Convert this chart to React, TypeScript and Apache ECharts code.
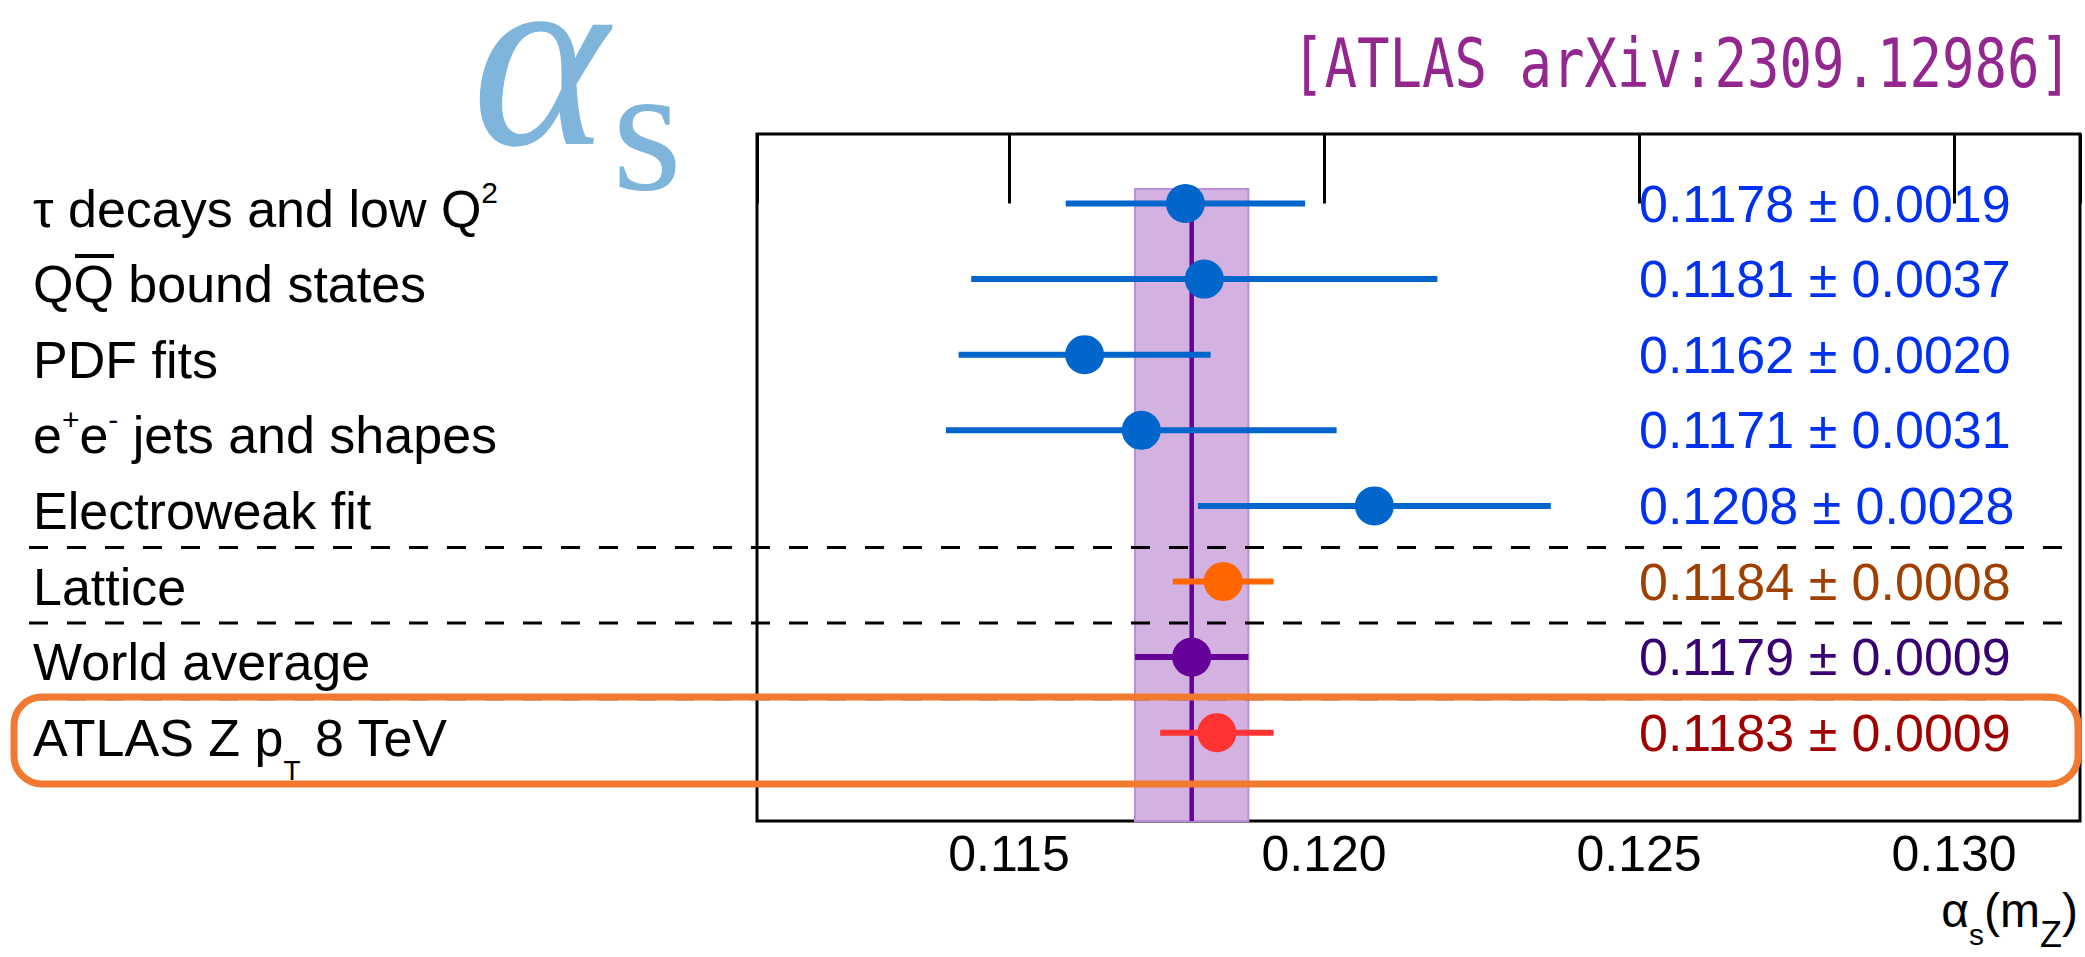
import React, { useEffect, useRef } from 'react';
import * as echarts from 'echarts';

// ---------- data ----------
const CATEGORIES = [
  'τ decays and low Q²',
  'QQ\u0304 bound states',
  'PDF fits',
  'e⁺e⁻ jets and shapes',
  'Electroweak fit',
  'Lattice',
  'World average',
  'ATLAS Z p_T 8 TeV',
];
const VALUES = [0.1178, 0.1181, 0.1162, 0.1171, 0.1208, 0.1184, 0.1179, 0.1183];
const ERRORS = [0.0019, 0.0037, 0.002, 0.0031, 0.0028, 0.0008, 0.0009, 0.0009];
const MARKER_COLORS = ['#0066CC', '#0066CC', '#0066CC', '#0066CC', '#0066CC', '#FF6600', '#660099', '#FF3333'];
const TEXT_COLORS = ['#0030F0', '#0030F0', '#0030F0', '#0030F0', '#0030F0', '#A04000', '#380070', '#A00000'];
const WORLD_AVERAGE_INDEX = 6;
const SEPARATOR_AFTER = [4, 5, 6];
const X_MIN = 0.111;
const X_MAX = 0.132;
const TITLE_SYMBOL = 'α';
const TITLE_SUB = 's';
const REFERENCE = '[ATLAS arXiv:2309.12986]';
const AXIS_NAME = '{a|α}{s|s}{a|(m}{z|Z}{a|)}';

// ---------- layout / style ----------
const FONT = '"Liberation Sans", Arial, Helvetica, sans-serif';
const SERIF = '"Liberation Serif", "DejaVu Serif", serif';
const Y_MIN = -0.919;
const Y_MAX = 8.168;
const BAND_TOP = -0.19;
const SEPARATOR_LEFT = 29;

const fmt4 = (v: number) => v.toFixed(4);

function richLabel(s: string): string {
  return s
    .replace('\u0304', '')
    .replace('²', '{sup|2}')
    .replace('⁺', '{sup|+}')
    .replace('⁻', '{sup|-}')
    .replace('_T', '{sub|T}');
}

const tickFormatter = (v: number) =>
  Math.abs(v * 200 - Math.round(v * 200)) < 1e-6 ? v.toFixed(3) : '';

function buildOption(): any {
  return {
    animation: false,
    backgroundColor: '#ffffff',
    grid: [
      { left: 757, right: 5, top: 134, bottom: 136, show: true, borderColor: '#000', borderWidth: 3, backgroundColor: 'transparent' },
      { left: 757, right: 5, top: 165.7, bottom: 186.5 },
    ],
    xAxis: [
      {
        type: 'value', gridIndex: 0, min: X_MIN, max: X_MAX, position: 'bottom',
        axisLine: { show: false },
        axisTick: { inside: true, length: 39, lineStyle: { color: '#000', width: 3 } },
        splitLine: { show: false },
        axisLabel: { formatter: tickFormatter, fontSize: 50, fontFamily: FONT, color: '#000', margin: 8 },
      },
      {
        type: 'value', gridIndex: 0, min: X_MIN, max: X_MAX, position: 'top',
        axisLine: { show: false },
        axisTick: { inside: true, length: 39, lineStyle: { color: '#000', width: 3 } },
        axisLabel: { show: false },
        splitLine: { show: false },
      },
      { type: 'value', gridIndex: 1, min: X_MIN, max: X_MAX, show: false },
    ],
    yAxis: [
      { type: 'value', gridIndex: 0, min: Y_MIN, max: Y_MAX, inverse: true, show: false },
      {
        type: 'category', gridIndex: 1, data: CATEGORIES, inverse: true, position: 'left',
        axisLine: { show: false }, axisTick: { show: false }, splitLine: { show: false },
        axisLabel: {
          interval: 0, hideOverlap: false,
          formatter: (v: string) => richLabel(v),
          align: 'left', margin: 724, fontSize: 52, lineHeight: 60, fontFamily: FONT, color: '#000',
          padding: [10, 0, 0, 0],
          rich: {
            sup: { fontSize: 30, lineHeight: 30, fontFamily: FONT, color: '#000', padding: [0, 0, 32, 0] },
            sub: { fontSize: 28, lineHeight: 28, fontFamily: FONT, color: '#000', padding: [65, 0, 0, 0] },
          },
        },
      },
      {
        type: 'category', gridIndex: 1, data: CATEGORIES, inverse: true, position: 'right',
        axisLine: { show: false }, axisTick: { show: false }, splitLine: { show: false },
        axisLabel: {
          interval: 0, hideOverlap: false,
          inside: true, align: 'left', margin: 441,
          formatter: (_v: string, i: number) => `${fmt4(VALUES[i])} ± ${fmt4(ERRORS[i])}`,
          color: (_v: string, i: number) => TEXT_COLORS[i],
          fontSize: 52, fontFamily: FONT, padding: [10, 0, 0, 0],
        },
      },
    ],
    series: [
      {
        type: 'custom', xAxisIndex: 0, yAxisIndex: 0, silent: true, z: 1,
        data: [[VALUES[WORLD_AVERAGE_INDEX], ERRORS[WORLD_AVERAGE_INDEX]]],
        renderItem: (_p: any, api: any) => {
          const v = api.value(0);
          const e = api.value(1);
          const tl = api.coord([v - e, BAND_TOP]);
          const br = api.coord([v + e, Y_MAX]);
          const t = api.coord([v, BAND_TOP]);
          const b = api.coord([v, Y_MAX]);
          return {
            type: 'group',
            children: [
              { type: 'rect', shape: { x: tl[0], y: tl[1], width: br[0] - tl[0], height: br[1] - tl[1] }, style: { fill: '#D3B1E1', stroke: '#BB8FD8', lineWidth: 2 } },
              { type: 'line', shape: { x1: t[0], y1: t[1], x2: b[0], y2: b[1] }, style: { stroke: '#660099', lineWidth: 4.5 } },
            ],
          };
        },
      },
      {
        type: 'custom', xAxisIndex: 0, yAxisIndex: 0, silent: true, z: 2,
        data: SEPARATOR_AFTER.map((i) => [i]),
        renderItem: (_p: any, api: any) => {
          const idx = api.value(0);
          const y = api.coord([X_MIN, idx + 0.55])[1];
          const x2 = api.coord([X_MAX, idx])[0];
          return { type: 'line', shape: { x1: SEPARATOR_LEFT, y1: y, x2, y2: y }, style: { stroke: '#000', lineWidth: 3, lineDash: [19, 19] } };
        },
      },
      {
        type: 'custom', xAxisIndex: 0, yAxisIndex: 0, silent: true, z: 3,
        data: VALUES.map((v, i) => [v, ERRORS[i], i]),
        renderItem: (_p: any, api: any) => {
          const v = api.value(0);
          const e = api.value(1);
          const idx = api.value(2);
          const color = MARKER_COLORS[idx];
          const l = api.coord([v - e, idx]);
          const r = api.coord([v + e, idx]);
          const c = api.coord([v, idx]);
          return {
            type: 'group',
            children: [
              { type: 'line', shape: { x1: l[0], y1: l[1], x2: r[0], y2: r[1] }, style: { stroke: color, lineWidth: 6 } },
              { type: 'circle', shape: { cx: c[0], cy: c[1], r: 19.5 }, style: { fill: color } },
            ],
          };
        },
      },
    ],
    graphic: [
      {
        type: 'text', x: 472, y: 56,
        style: { text: TITLE_SYMBOL, fontSize: 260, lineHeight: 100, fontStyle: 'italic', fontFamily: SERIF, fill: '#7FB5DA', align: 'left', verticalAlign: 'middle', textAlign: 'left', textVerticalAlign: 'middle' },
      },
      {
        type: 'text', x: 612, y: 128,
        style: { text: TITLE_SUB, fontSize: 180, lineHeight: 80, fontFamily: SERIF, fill: '#7FB5DA', align: 'left', verticalAlign: 'middle', textAlign: 'left', textVerticalAlign: 'middle' },
      },
      {
        type: 'text', x: 1292, y: 64, scaleY: 1.24,
        style: { text: REFERENCE, fontSize: 54, fontFamily: '"DejaVu Sans Mono", monospace', fill: '#93278F', align: 'left', verticalAlign: 'middle', textAlign: 'left', textVerticalAlign: 'middle' },
      },
      {
        type: 'text', x: 2078, y: 910,
        style: {
          text: AXIS_NAME, align: 'right', verticalAlign: 'middle', textAlign: 'right', textVerticalAlign: 'middle',
          rich: {
            a: { fontSize: 48, lineHeight: 50, fontFamily: FONT, fill: '#000', color: '#000' },
            s: { fontSize: 30, lineHeight: 30, fontFamily: FONT, fill: '#000', color: '#000', padding: [48, 0, 0, 0] },
            z: { fontSize: 36, lineHeight: 36, fontFamily: FONT, fill: '#000', color: '#000', padding: [48, 0, 0, 0] },
          },
        },
      },
      {
        type: 'line', shape: { x1: 75, y1: 256, x2: 114, y2: 256 }, style: { stroke: '#000', lineWidth: 4 },
      },
      {
        type: 'rect', z: 100, shape: { x: 14, y: 697, width: 2064, height: 87, r: 28 },
        style: { fill: 'none', stroke: '#F27A30', lineWidth: 7 },
      },
    ],
  };
}

export default function App() {
  const ref = useRef<HTMLDivElement>(null);
  useEffect(() => {
    if (!ref.current) return;
    const chart = echarts.init(ref.current, null, { renderer: 'svg' });
    chart.setOption(buildOption());
    return () => chart.dispose();
  }, []);
  return (
    <div
      ref={ref}
      style={{ position: 'fixed', left: 0, top: 0, width: 2085, height: 957, background: '#ffffff' }}
    />
  );
}
